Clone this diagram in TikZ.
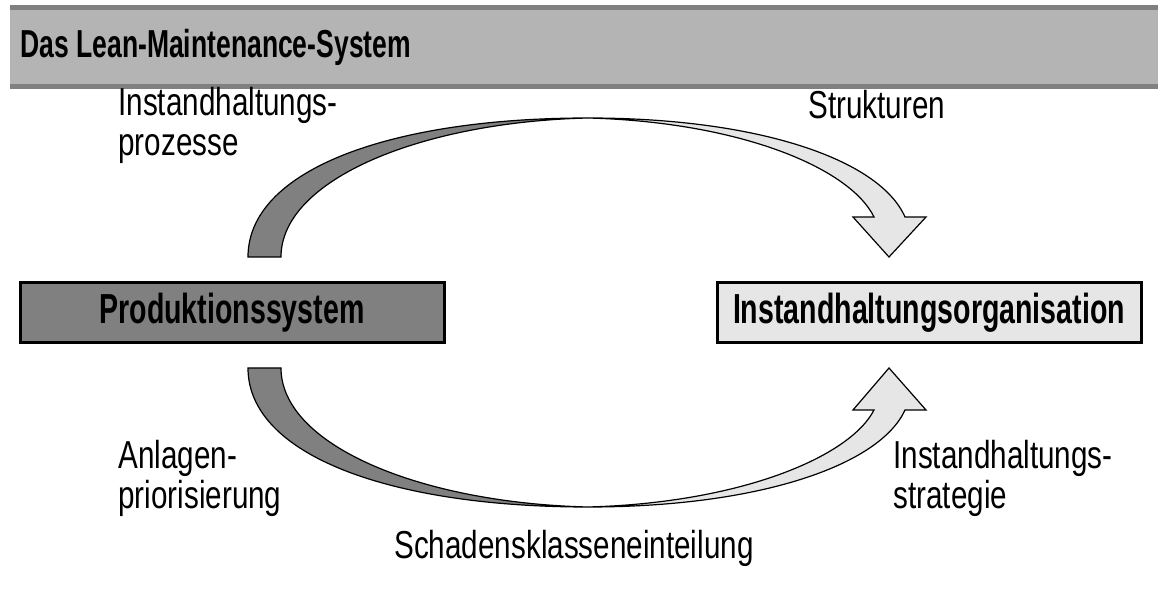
\documentclass[tikz,border=0pt]{standalone}
\usepackage{fontspec}
\setmainfont{Liberation Sans}[FakeStretch=0.76]
\newfontfamily\boldcond{Liberation Sans}[FakeStretch=0.68]
\usetikzlibrary{positioning}
\definecolor{bardark}{HTML}{808080}
\definecolor{barlight}{HTML}{B4B4B4}
\definecolor{boxlight}{HTML}{E6E6E6}

\begin{document}
\begin{tikzpicture}[x=0.5pt,y=-0.5pt]
\tikzset{
  lbl/.style={font=\fontsize{19.5}{20}\selectfont, align=left, inner sep=0pt, anchor=west},
  sysbox/.style={draw, line width=1.5pt, minimum width=212pt, minimum height=30pt, inner sep=0pt, font=\boldcond\bfseries\fontsize{21}{22}\selectfont},
  curvearrow/.style={draw, line width=0.6pt, line join=miter},
}
\useasboundingbox (0,0) rectangle (1158,592);

% header band
\fill[bardark] (10,5) rectangle (1158,89);
\fill[barlight] (10,10) rectangle (1158,84);
\node[anchor=west, inner sep=0pt, font=\boldcond\bfseries\fontsize{19.5}{22}\selectfont] (title) at (20,47) {Das Lean-Maintenance-System};

% systems
\node[sysbox, fill=bardark] (prod) at (232,313) {Produktionssystem};
\node[sysbox, fill=boxlight] (org) at (929,313) {Instandhaltungsorganisation};

% labels
\node[lbl] (proz) at (118,125) {Instandhaltungs-\\prozesse};
\node[lbl] (struk) at (808,105) {Strukturen};
\node[lbl] (anl) at (118,478) {Anlagen-\\priorisierung};
\node[lbl] (strat) at (893,478) {Instandhaltungs-\\strategie};
\node[lbl, anchor=center] (schad) at (574,548) {Schadensklasseneinteilung};

% upper arrow
\coordinate (utop) at (588,118);
\coordinate (utip) at (889,257);
\filldraw[curvearrow, fill=bardark] (248,257) .. controls (248,170) and (390,118) .. (utop)
  .. controls (420,122) and (281,180) .. (281,257) -- cycle;
\filldraw[curvearrow, fill=boxlight] (utop) .. controls (760,118) and (880,160) .. (905,217)
  -- (926,217) -- (utip) -- (853,217) -- (874,217)
  .. controls (850,168) and (740,122) .. (utop) -- cycle;

% lower arrow
\coordinate (lbot) at (588,507);
\coordinate (ltip) at (889,368);
\filldraw[curvearrow, fill=bardark] (248,368) .. controls (248,455) and (390,507) .. (lbot)
  .. controls (420,503) and (281,445) .. (281,368) -- cycle;
\filldraw[curvearrow, fill=boxlight] (lbot) .. controls (760,507) and (880,465) .. (905,410)
  -- (926,410) -- (ltip) -- (853,410) -- (874,410)
  .. controls (850,457) and (740,503) .. (lbot) -- cycle;
\end{tikzpicture}
\end{document}
